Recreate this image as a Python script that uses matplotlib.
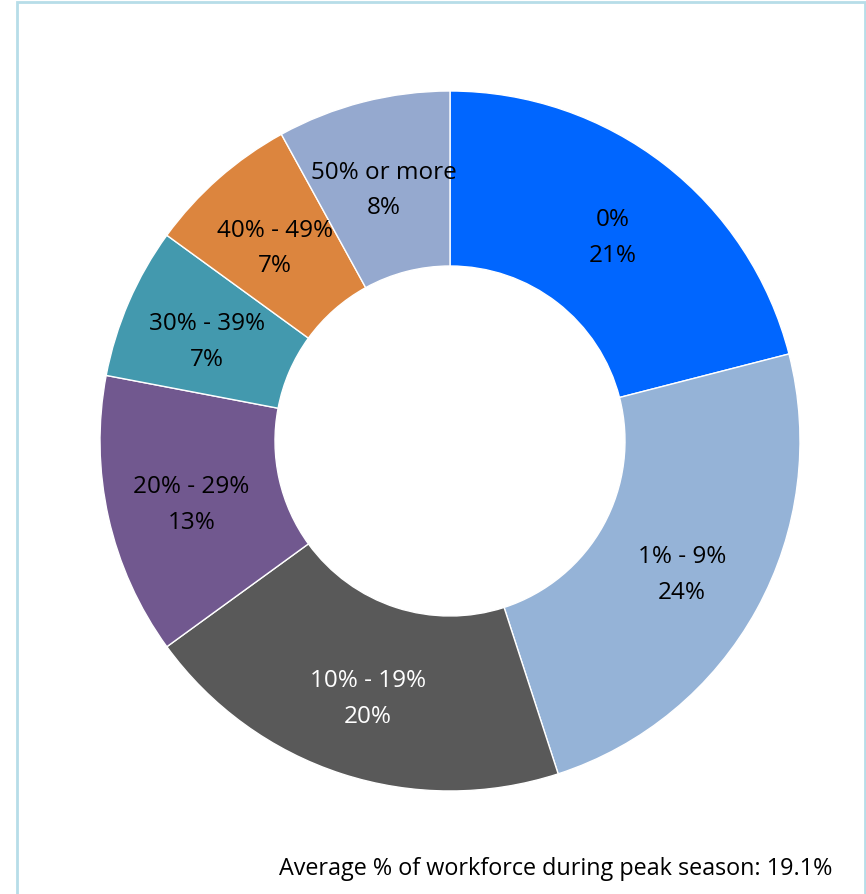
import matplotlib.pyplot as plt
from matplotlib.patches import Rectangle
import numpy as np

# categories / values
categories = ['0%', '1% - 9%', '10% - 19%', '20% - 29%', '30% - 39%', '40% - 49%', '50% or more']
shares = [21, 24, 20, 13, 7, 7, 8]
colors = ['#0066FF', '#95B3D7', '#595959', '#71588F', '#4399AE', '#DC853E', '#95A9CF']
text_colors = ['black', 'black', 'white', 'black', 'black', 'black', 'black']
note = 'Average % of workforce during peak season: 19.1%'

plt.rcParams['font.family'] = ['Open Sans', 'DejaVu Sans']

fig = plt.figure(figsize=(8.66, 8.95), dpi=100)
ax = fig.add_axes([100 / 866, 103 / 895, 700 / 866, 700 / 895])

wedges, _ = ax.pie(shares, colors=colors, startangle=90, counterclock=False,
                   radius=1.0, wedgeprops=dict(width=0.5, edgecolor='white', linewidth=1))

total = sum(shares)
start = 90.0
for cat, val, tc in zip(categories, shares, text_colors):
    mid = np.deg2rad(start - val / total * 360 / 2)
    start -= val / total * 360
    r = 0.757
    # small downward nudge so the two-line block sits like the original
    ax.text(r * np.cos(mid), r * np.sin(mid) - 0.015, f'{cat}\n{val}%', ha='center', va='center',
            fontsize=17.5, color=tc, linespacing=1.65)

ax.set_xlim(-1, 1)
ax.set_ylim(-1, 1)
ax.set_aspect('equal')
ax.axis('off')

fig.text(832 / 866, 1 - 869 / 895, note, ha='right', va='center', fontsize=16.8)

# light blue frame (open at the bottom)
fig.patches.append(Rectangle((17 / 866, -0.01), 848 / 866, 1 - 3 / 895 + 0.01,
                             transform=fig.transFigure, fill=False,
                             edgecolor='#B7DDE8', linewidth=2))

fig.savefig('out.png', dpi=100)
